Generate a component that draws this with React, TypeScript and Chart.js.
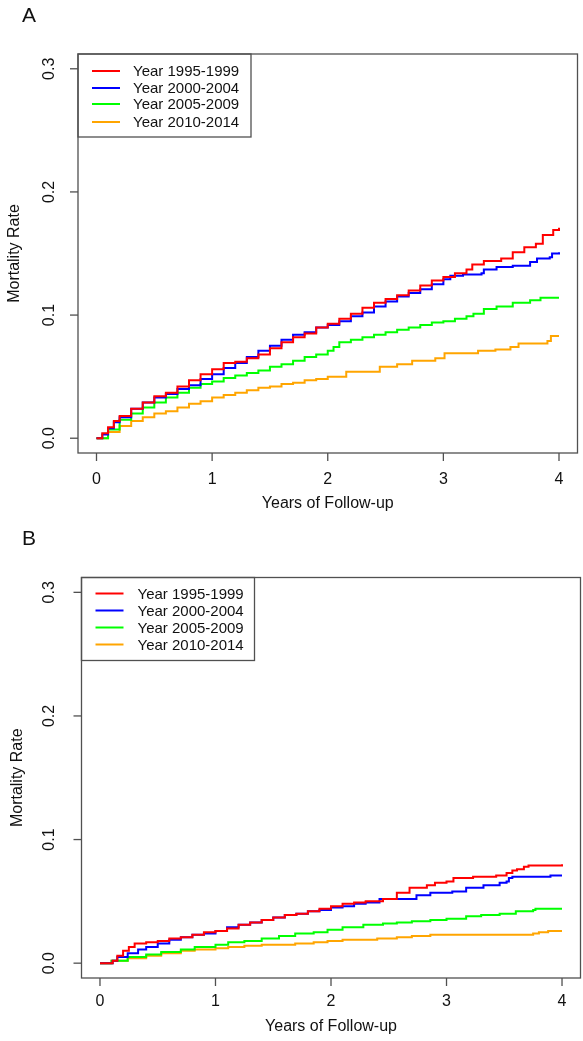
import React, { useEffect, useRef } from "react";
import { Chart, registerables } from "chart.js";

Chart.register(...registerables);

// ---------- shared labels / ticks ----------
const seriesLabels = ["Year 1995-1999", "Year 2000-2004", "Year 2005-2009", "Year 2010-2014"];
const seriesColors = ["#FF0000", "#0000FF", "#00FF00", "#FFA500"];
const xTicks = [0, 1, 2, 3, 4];
const xTickLabels = ["0", "1", "2", "3", "4"];
const yTicks = [0, 0.1, 0.2, 0.3];
const yTickLabels = ["0.0", "0.1", "0.2", "0.3"];
const xTitle = "Years of Follow-up";
const yTitle = "Mortality Rate";

// ---------- Panel A data ----------
const aRedT = [0, 0.05, 0.1, 0.15, 0.2, 0.3, 0.4, 0.5, 0.6, 0.7, 0.8, 0.9, 1.0, 1.1, 1.2, 1.3, 1.4, 1.5, 1.6, 1.7, 1.8, 1.9, 2.0, 2.1, 2.2, 2.3, 2.4, 2.5, 2.6, 2.7, 2.8, 2.9, 3.0, 3.1, 3.2, 3.25, 3.35, 3.5, 3.6, 3.7, 3.8, 3.86, 3.95, 4.0];
const aRedV = [0, 0.004, 0.009, 0.014, 0.018, 0.024, 0.029, 0.034, 0.037, 0.042, 0.047, 0.052, 0.056, 0.061, 0.062, 0.065, 0.068, 0.073, 0.078, 0.082, 0.085, 0.09, 0.093, 0.097, 0.101, 0.106, 0.11, 0.113, 0.116, 0.12, 0.124, 0.128, 0.131, 0.134, 0.137, 0.141, 0.144, 0.146, 0.151, 0.155, 0.158, 0.165, 0.169, 0.171];

const aBlueT = [0, 0.05, 0.1, 0.15, 0.2, 0.3, 0.4, 0.5, 0.6, 0.7, 0.8, 0.9, 1.0, 1.1, 1.2, 1.3, 1.4, 1.5, 1.6, 1.7, 1.8, 1.9, 2.0, 2.1, 2.2, 2.3, 2.4, 2.5, 2.6, 2.7, 2.8, 2.9, 3.0, 3.06, 3.17, 3.33, 3.35, 3.46, 3.6, 3.75, 3.81, 3.92, 3.94, 4.0];
const aBlueV = [0, 0.003, 0.008, 0.013, 0.017, 0.024, 0.029, 0.033, 0.036, 0.04, 0.043, 0.048, 0.052, 0.057, 0.061, 0.066, 0.071, 0.075, 0.08, 0.084, 0.086, 0.09, 0.092, 0.095, 0.099, 0.102, 0.107, 0.111, 0.115, 0.118, 0.121, 0.125, 0.129, 0.132, 0.133, 0.134, 0.137, 0.139, 0.14, 0.143, 0.146, 0.147, 0.15, 0.151];

const aGreenT = [0, 0.1, 0.2, 0.3, 0.4, 0.5, 0.6, 0.7, 0.8, 0.9, 1.0, 1.1, 1.2, 1.3, 1.4, 1.5, 1.6, 1.7, 1.8, 1.9, 2.0, 2.05, 2.1, 2.2, 2.3, 2.4, 2.5, 2.6, 2.7, 2.8, 2.9, 3.0, 3.1, 3.2, 3.26, 3.35, 3.46, 3.6, 3.75, 3.84, 4.0];
const aGreenV = [0, 0.007, 0.015, 0.02, 0.025, 0.029, 0.033, 0.037, 0.041, 0.044, 0.046, 0.049, 0.051, 0.053, 0.055, 0.058, 0.06, 0.063, 0.066, 0.068, 0.071, 0.074, 0.078, 0.08, 0.082, 0.084, 0.086, 0.088, 0.09, 0.092, 0.094, 0.095, 0.097, 0.099, 0.101, 0.105, 0.107, 0.11, 0.112, 0.114, 0.114];

const aOrangeT = [0, 0.1, 0.2, 0.3, 0.4, 0.5, 0.6, 0.7, 0.8, 0.9, 1.0, 1.1, 1.2, 1.3, 1.4, 1.5, 1.6, 1.7, 1.8, 1.9, 2.0, 2.16, 2.3, 2.45, 2.6, 2.73, 2.93, 3.01, 3.3, 3.45, 3.58, 3.65, 3.81, 3.9, 3.93, 4.0];
const aOrangeV = [0, 0.005, 0.01, 0.014, 0.017, 0.02, 0.022, 0.025, 0.028, 0.03, 0.033, 0.035, 0.037, 0.039, 0.041, 0.042, 0.044, 0.045, 0.047, 0.048, 0.05, 0.054, 0.054, 0.058, 0.06, 0.063, 0.065, 0.069, 0.071, 0.072, 0.074, 0.077, 0.077, 0.079, 0.083, 0.083];

// ---------- Panel B data ----------
const bRedT = [0, 0.11, 0.15, 0.2, 0.25, 0.3, 0.4, 0.5, 0.6, 0.7, 0.8, 0.9, 1.0, 1.1, 1.2, 1.3, 1.4, 1.5, 1.6, 1.7, 1.8, 1.9, 2.0, 2.1, 2.2, 2.3, 2.45, 2.57, 2.68, 2.83, 2.9, 3.0, 3.06, 3.23, 3.43, 3.52, 3.57, 3.61, 3.67, 3.71, 4.0];
const bRedV = [0, 0.002, 0.006, 0.01, 0.013, 0.016, 0.017, 0.018, 0.02, 0.021, 0.023, 0.025, 0.026, 0.028, 0.031, 0.033, 0.035, 0.037, 0.039, 0.04, 0.042, 0.044, 0.046, 0.048, 0.049, 0.05, 0.052, 0.057, 0.061, 0.063, 0.065, 0.066, 0.069, 0.07, 0.071, 0.073, 0.075, 0.076, 0.078, 0.079, 0.08];

const bBlueT = [0, 0.11, 0.15, 0.24, 0.33, 0.4, 0.5, 0.6, 0.7, 0.8, 0.9, 1.0, 1.1, 1.2, 1.3, 1.4, 1.5, 1.6, 1.7, 1.8, 1.9, 2.0, 2.1, 2.2, 2.3, 2.42, 2.68, 2.74, 2.86, 3.05, 3.17, 3.32, 3.46, 3.52, 3.54, 3.57, 3.88, 3.9, 4.0];
const bBlueV = [0, 0.002, 0.005, 0.008, 0.011, 0.013, 0.016, 0.019, 0.021, 0.023, 0.024, 0.026, 0.029, 0.031, 0.033, 0.035, 0.037, 0.039, 0.04, 0.042, 0.043, 0.045, 0.046, 0.048, 0.049, 0.052, 0.052, 0.055, 0.057, 0.058, 0.061, 0.063, 0.065, 0.066, 0.069, 0.07, 0.07, 0.071, 0.071];

const bGreenT = [0, 0.1, 0.24, 0.4, 0.53, 0.7, 0.82, 1.0, 1.11, 1.25, 1.4, 1.55, 1.69, 1.85, 1.97, 2.1, 2.28, 2.45, 2.57, 2.7, 2.86, 3.0, 3.17, 3.3, 3.46, 3.6, 3.75, 3.77, 4.0];
const bGreenV = [0, 0.002, 0.005, 0.007, 0.009, 0.011, 0.013, 0.015, 0.017, 0.018, 0.02, 0.022, 0.024, 0.025, 0.027, 0.029, 0.031, 0.032, 0.033, 0.034, 0.035, 0.036, 0.038, 0.039, 0.04, 0.042, 0.043, 0.044, 0.044];

const bOrangeT = [0, 0.1, 0.24, 0.4, 0.53, 0.7, 0.82, 1.0, 1.11, 1.25, 1.4, 1.69, 1.85, 1.97, 2.1, 2.28, 2.4, 2.57, 2.7, 2.86, 3.46, 3.75, 3.8, 3.88, 4.0];
const bOrangeV = [0, 0.002, 0.004, 0.006, 0.008, 0.01, 0.011, 0.012, 0.013, 0.014, 0.015, 0.016, 0.017, 0.018, 0.019, 0.019, 0.02, 0.021, 0.022, 0.023, 0.023, 0.024, 0.025, 0.026, 0.026];

const FONT = "'Liberation Sans', Arial, sans-serif";

const rStylePlugin = {
  id: "rStyle",
  afterDatasetsDraw(chart: any, _args: any, opts: any) {
    const { ctx, chartArea: a, scales } = chart;
    const xs = scales.x;
    const ys = scales.y;
    ctx.save();
    // legend
    const lg = opts.legend;
    const lx = a.left;
    const ly = a.top;
    ctx.fillStyle = "#ffffff";
    ctx.fillRect(lx, ly, lg.w, lg.h);
    ctx.strokeStyle = "#505050";
    ctx.lineWidth = 1.3;
    ctx.strokeRect(lx, ly, lg.w, lg.h);
    ctx.font = `15px ${FONT}`;
    ctx.textAlign = "left";
    ctx.textBaseline = "middle";
    chart.data.datasets.forEach((ds: any, i: number) => {
      const ry = ly + lg.rows[i];
      ctx.strokeStyle = ds.borderColor;
      ctx.lineWidth = 2;
      ctx.beginPath();
      ctx.moveTo(lx + lg.lineStart, ry);
      ctx.lineTo(lx + lg.lineEnd, ry);
      ctx.stroke();
      ctx.fillStyle = "#111111";
      ctx.fillText(ds.label, lx + lg.textX, ry + 1);
    });
    // box
    ctx.strokeStyle = "#505050";
    ctx.lineWidth = 1.3;
    ctx.strokeRect(a.left, a.top, a.right - a.left, a.bottom - a.top);
    // x ticks
    ctx.font = `16px ${FONT}`;
    ctx.fillStyle = "#111111";
    ctx.textAlign = "center";
    ctx.textBaseline = "middle";
    xTicks.forEach((v, i) => {
      const px = xs.getPixelForValue(v);
      ctx.beginPath();
      ctx.moveTo(px, a.bottom);
      ctx.lineTo(px, a.bottom + 8);
      ctx.stroke();
      ctx.fillText(xTickLabels[i], px, a.bottom + opts.xLabelGap);
    });
    ctx.fillText(xTitle, (xs.getPixelForValue(0) + xs.getPixelForValue(4)) / 2, a.bottom + opts.xTitleGap);
    // y ticks
    yTicks.forEach((v, i) => {
      const py = ys.getPixelForValue(v);
      ctx.beginPath();
      ctx.moveTo(a.left - 8, py);
      ctx.lineTo(a.left, py);
      ctx.stroke();
      ctx.save();
      ctx.translate(opts.yLabelX, py);
      ctx.rotate(-Math.PI / 2);
      ctx.fillText(yTickLabels[i], 0, 0);
      ctx.restore();
    });
    ctx.save();
    ctx.translate(opts.yTitleX, (a.top + a.bottom) / 2);
    ctx.rotate(-Math.PI / 2);
    ctx.fillText(yTitle, 0, 0);
    ctx.restore();
    // panel letter
    ctx.font = `21px ${FONT}`;
    ctx.textAlign = "left";
    ctx.textBaseline = "alphabetic";
    ctx.fillText(opts.letter, 22, opts.letterY);
    ctx.restore();
  },
};

type PanelProps = {
  top: number;
  height: number;
  times: number[][];
  values: number[][];
  padding: { left: number; right: number; top: number; bottom: number };
  style: any;
};

function Panel({ top, height, times, values, padding, style }: PanelProps) {
  const ref = useRef<HTMLCanvasElement | null>(null);
  useEffect(() => {
    if (!ref.current) return;
    const datasets = seriesLabels.map((label, i) => ({
      label,
      data: times[i].map((t, j) => ({ x: t, y: values[i][j] })),
      borderColor: seriesColors[i],
      backgroundColor: seriesColors[i],
      borderWidth: 2,
      pointRadius: 0,
      stepped: true as const,
      fill: false,
    }));
    const chart = new Chart(ref.current, {
      type: "line",
      data: { datasets },
      options: {
        animation: false,
        responsive: false,
        maintainAspectRatio: false,
        devicePixelRatio: 1,
        layout: { padding },
        plugins: {
          legend: { display: false },
          tooltip: { enabled: false },
          rStyle: style,
        } as any,
        scales: {
          x: { type: "linear", min: -0.16, max: 4.16, display: false },
          y: { type: "linear", min: -0.012, max: 0.312, display: false },
        },
      },
      plugins: [rStylePlugin],
    });
    return () => chart.destroy();
  }, []);
  return (
    <canvas
      ref={ref}
      width={583}
      height={height}
      style={{ position: "absolute", left: 0, top, width: 583, height }}
    />
  );
}

export default function App() {
  return (
    <div style={{ position: "absolute", left: 0, top: 0, width: 583, height: 1041, background: "#fff" }}>
      <Panel
        top={0}
        height={520}
        times={[aRedT, aBlueT, aGreenT, aOrangeT]}
        values={[aRedV, aBlueV, aGreenV, aOrangeV]}
        padding={{ left: 78, right: 5.5, top: 54, bottom: 67 }}
        style={{
          letter: "A",
          letterY: 22,
          xLabelGap: 27,
          xTitleGap: 51,
          yLabelX: 50,
          yTitleX: 15,
          legend: { w: 173, h: 83, rows: [17, 34, 50, 68], lineStart: 14, lineEnd: 42, textX: 55 },
        }}
      />
      <Panel
        top={520}
        height={521}
        times={[bRedT, bBlueT, bGreenT, bOrangeT]}
        values={[bRedV, bBlueV, bGreenV, bOrangeV]}
        padding={{ left: 81.5, right: 2.5, top: 57.5, bottom: 63 }}
        style={{
          letter: "B",
          letterY: 25,
          xLabelGap: 24,
          xTitleGap: 49,
          yLabelX: 50,
          yTitleX: 18,
          legend: { w: 173, h: 83, rows: [16, 33, 50, 67], lineStart: 14, lineEnd: 42, textX: 56 },
        }}
      />
    </div>
  );
}
